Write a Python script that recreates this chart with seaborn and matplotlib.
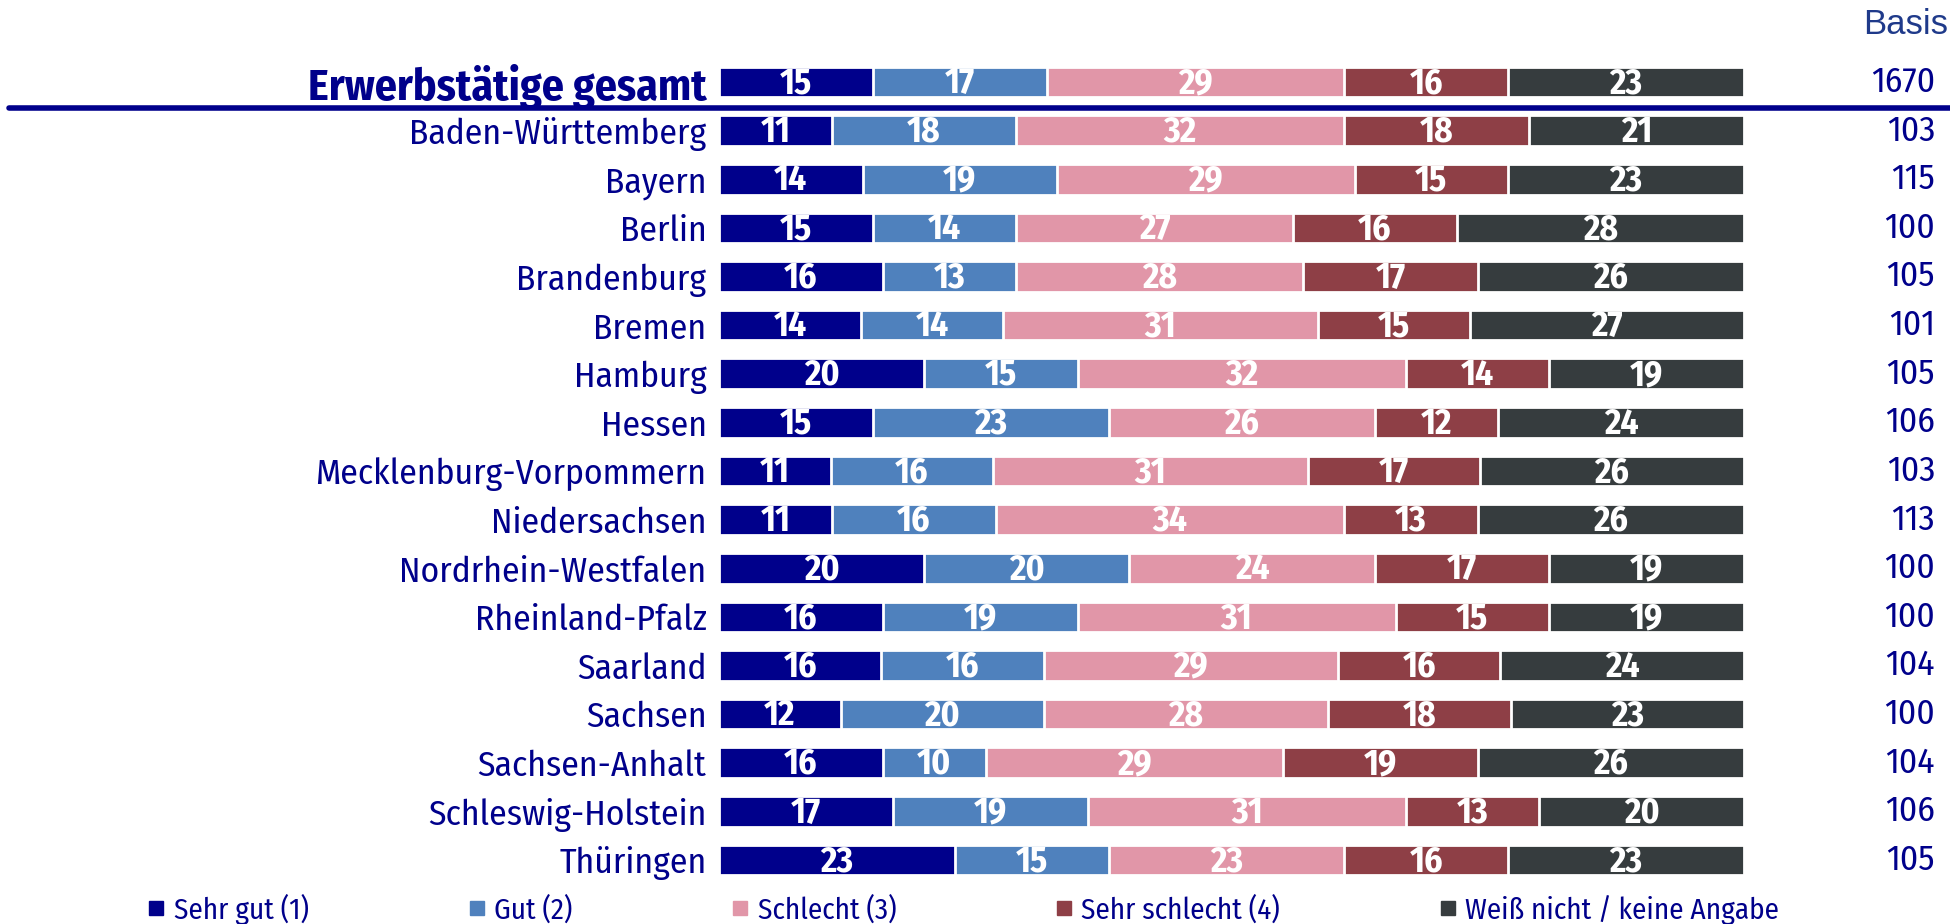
import matplotlib
matplotlib.use("Agg")
import matplotlib.pyplot as plt
import matplotlib.font_manager as fm
import matplotlib.transforms as mtrans
from matplotlib.lines import Line2D
import numpy as np
import pandas as pd
import seaborn as sns

rows = ["Erwerbstätige gesamt", "Baden-Württemberg", "Bayern", "Berlin", "Brandenburg",
        "Bremen", "Hamburg", "Hessen", "Mecklenburg-Vorpommern", "Niedersachsen",
        "Nordrhein-Westfalen", "Rheinland-Pfalz", "Saarland", "Sachsen", "Sachsen-Anhalt",
        "Schleswig-Holstein", "Thüringen"]
sehr_gut = [15, 11, 14, 15, 16, 14, 20, 15, 11, 11, 20, 16, 16, 12, 16, 17, 23]
gut = [17, 18, 19, 14, 13, 14, 15, 23, 16, 16, 20, 19, 16, 20, 10, 19, 15]
schlecht = [29, 32, 29, 27, 28, 31, 32, 26, 31, 34, 24, 31, 29, 28, 29, 31, 23]
sehr_schlecht = [16, 18, 15, 16, 17, 15, 14, 12, 17, 13, 17, 15, 16, 18, 19, 13, 16]
weiss_nicht = [23, 21, 23, 28, 26, 27, 19, 24, 26, 26, 19, 19, 24, 23, 26, 20, 23]
basis = [1670, 103, 115, 100, 105, 101, 105, 106, 103, 113, 100, 100, 104, 100, 104, 106, 105]
series_names = ["Sehr gut (1)", "Gut (2)", "Schlecht (3)", "Sehr schlecht (4)", "Weiß nicht / keine Angabe"]

colors = ["#00008B", "#4F81BD", "#E196A8", "#8E3F46", "#363C3E"]
navy = "#00008B"

sns.set_theme(style="white")
available = {f.name for f in fm.fontManager.ttflist}
font = "Fira Sans Condensed" if "Fira Sans Condensed" in available else "Lato"
plt.rcParams["font.family"] = [font, "DejaVu Sans"]

vals = np.array([sehr_gut, gut, schlecht, sehr_schlecht, weiss_nicht], dtype=float)
totals = vals.sum(axis=0)
shares = vals / totals * 100.0
cum = np.cumsum(shares, axis=0)

fig = plt.figure(figsize=(19.5, 9.24), dpi=100)
ax = fig.add_axes([719 / 1950, 1 - 884.3 / 924, (1744 - 719) / 1950, (884.3 - 57.7) / 924])

for k in reversed(range(5)):
    df = pd.DataFrame({"row": rows, "val": cum[k]})
    sns.barplot(data=df, x="val", y="row", order=rows, orient="h", color=colors[k],
                saturation=1, width=0.63, edgecolor="white", linewidth=2, ax=ax)

for i in range(len(rows)):
    for k in range(5):
        xc = cum[k, i] - shares[k, i] / 2
        ax.text(xc, i + 0.03, f"{int(vals[k, i])}", ha="center", va="center", color="white",
                fontsize=25.5, fontweight="bold")

ax.set_xlim(0, 100)
ax.set_xlabel("")
ax.set_ylabel("")
ax.set_xticks([])
ax.set_yticks(range(len(rows)))
ax.set_yticklabels(rows)
ax.tick_params(axis="y", length=0, pad=9, labelsize=25.6, labelcolor=navy)
first = ax.get_yticklabels()[0]
first.set_fontweight("bold")
first.set_fontsize(31.5)
for s in ax.spines.values():
    s.set_visible(False)

tr = mtrans.blended_transform_factory(fig.transFigure, ax.transData)
for i, b in enumerate(basis):
    ax.text(1935 / 1950, i, str(b), transform=tr, ha="right", va="center",
            fontsize=25.5, color=navy)
fig.text(0.999, 1 - 25 / 924, "Basis", ha="right", va="center", fontsize=25,
         color="#1F3A8A", family=["Liberation Sans", "DejaVu Sans"])

fig.add_artist(Line2D([9 / 1950, 1.0], [1 - 108 / 924, 1 - 108 / 924],
                      transform=fig.transFigure, color=navy, linewidth=4))

handles = [Line2D([], [], marker="s", linestyle="none", markersize=10,
                  markerfacecolor=c, markeredgecolor=c) for c in colors]
fig.legend(handles, series_names, loc="center left", bbox_to_anchor=(149 / 1950, 1 - 909 / 924),
           ncol=5, frameon=False, fontsize=21, labelcolor=navy, handlelength=0.5,
           handletextpad=0.35, columnspacing=5.5, borderaxespad=0, borderpad=0)

fig.savefig("out.png", dpi=100)
